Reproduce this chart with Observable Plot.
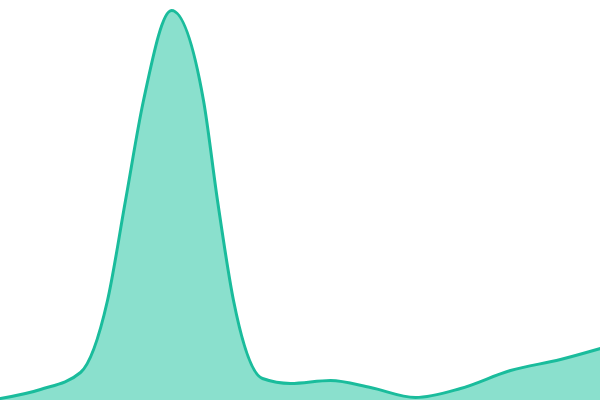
<!DOCTYPE html>
<html><head><meta charset="utf-8">
<script src="https://cdn.jsdelivr.net/npm/d3@7"></script>
<script src="https://cdn.jsdelivr.net/npm/@observablehq/plot@0.6"></script>
<style>body{margin:0;background:#fff;overflow:hidden}</style>
</head><body><div id="chart"></div>
<script>
const xs = [0, 40, 80, 107, 125, 143, 171, 203, 217, 233, 262, 290, 330, 370, 415, 460, 510, 560, 600];
const vs = [2, 11, 28, 100, 200, 300, 390, 300, 200, 100, 22, 17, 20, 13, 3, 12, 30, 41, 52];
const data = xs.map((x, i) => ({x, v: vs[i]}));
const chart = Plot.plot({
  width: 600, height: 400,
  margin: 0,
  x: {domain: [0, 600], axis: null},
  y: {domain: [0, 400], axis: null},
  marks: [
    Plot.areaY(data, {x: "x", y: "v", curve: "monotone-x", fill: "#8ae0cd"}),
    Plot.lineY(data, {x: "x", y: "v", curve: "monotone-x", stroke: "#1abc9c", strokeWidth: 3})
  ]
});
document.getElementById("chart").append(chart);
</script></body></html>
